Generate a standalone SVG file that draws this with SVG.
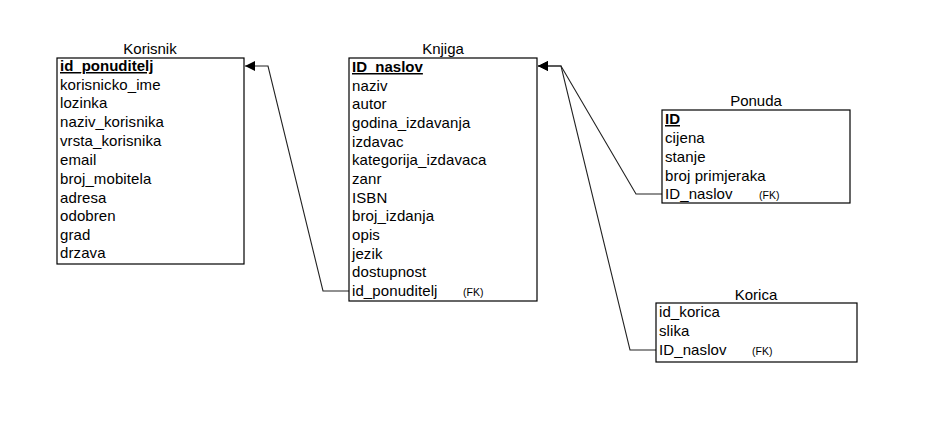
<svg xmlns="http://www.w3.org/2000/svg" width="948" height="442" viewBox="0 0 948 442">
<defs>
<style>
.box{fill:#fff;stroke:#000;stroke-width:1.2}
.t{font-family:"Liberation Sans",Arial,sans-serif;font-size:15px;letter-spacing:0.1px;fill:#000}
.title{font-family:"Liberation Sans",Arial,sans-serif;font-size:15px;fill:#000;text-anchor:middle}
.pk{font-weight:bold;letter-spacing:0;text-decoration:underline}
.fk{font-family:"Liberation Sans",Arial,sans-serif;font-size:10.5px;fill:#000}
.c{fill:none;stroke:#222;stroke-width:1.1}
</style>
<marker id="arr" viewBox="0 0 10 10" refX="10" refY="5" markerWidth="10" markerHeight="10" markerUnits="userSpaceOnUse" orient="auto">
<path d="M0,0 L10,5 L0,10 z" fill="#000"/>
</marker>
</defs>
<rect width="948" height="442" fill="#fff"/>
<g id="connectors">
<polyline class="c" points="349,291 323,291 268,66 245,66" marker-end="url(#arr)"/>
<polyline class="c" points="662,194 636,194 561,66 538,66" marker-end="url(#arr)"/>
<polyline class="c" points="656,350 630,350 561,66 538,66" marker-end="url(#arr)"/>
</g>
<g id="korisnik">
<text class="title" x="150" y="54">Korisnik</text>
<rect class="box" x="57" y="58" width="187" height="206"/>
<text class="t pk" x="60" y="71">id_ponuditelj</text>
<text class="t" x="60" y="90">korisnicko_ime</text>
<text class="t" x="60" y="108">lozinka</text>
<text class="t" x="60" y="127">naziv_korisnika</text>
<text class="t" x="60" y="146">vrsta_korisnika</text>
<text class="t" x="60" y="165">email</text>
<text class="t" x="60" y="184">broj_mobitela</text>
<text class="t" x="60" y="203">adresa</text>
<text class="t" x="60" y="221">odobren</text>
<text class="t" x="60" y="240">grad</text>
<text class="t" x="60" y="258">drzava</text>
</g>
<g id="knjiga">
<text class="title" x="443" y="54">Knjiga</text>
<rect class="box" x="349" y="58" width="188" height="243"/>
<text class="t pk" x="352" y="72">ID_naslov</text>
<text class="t" x="352" y="91">naziv</text>
<text class="t" x="352" y="109">autor</text>
<text class="t" x="352" y="128">godina_izdavanja</text>
<text class="t" x="352" y="147">izdavac</text>
<text class="t" x="352" y="165">kategorija_izdavaca</text>
<text class="t" x="352" y="184">zanr</text>
<text class="t" x="352" y="203">ISBN</text>
<text class="t" x="352" y="221">broj_izdanja</text>
<text class="t" x="352" y="240">opis</text>
<text class="t" x="352" y="259">jezik</text>
<text class="t" x="352" y="277">dostupnost</text>
<text class="t" x="352" y="296">id_ponuditelj</text>
<text class="fk" x="463" y="296">(FK)</text>
</g>
<g id="ponuda">
<text class="title" x="756" y="106">Ponuda</text>
<rect class="box" x="662" y="110" width="188" height="93"/>
<text class="t pk" x="665" y="124">ID</text>
<text class="t" x="665" y="143">cijena</text>
<text class="t" x="665" y="162">stanje</text>
<text class="t" x="665" y="181">broj primjeraka</text>
<text class="t" x="665" y="199">ID_naslov</text>
<text class="fk" x="759" y="199">(FK)</text>
</g>
<g id="korica">
<text class="title" x="756" y="300">Korica</text>
<rect class="box" x="656" y="303" width="201" height="59"/>
<text class="t" x="659" y="317">id_korica</text>
<text class="t" x="659" y="336">slika</text>
<text class="t" x="659" y="355">ID_naslov</text>
<text class="fk" x="752" y="355">(FK)</text>
</g>
</svg>
